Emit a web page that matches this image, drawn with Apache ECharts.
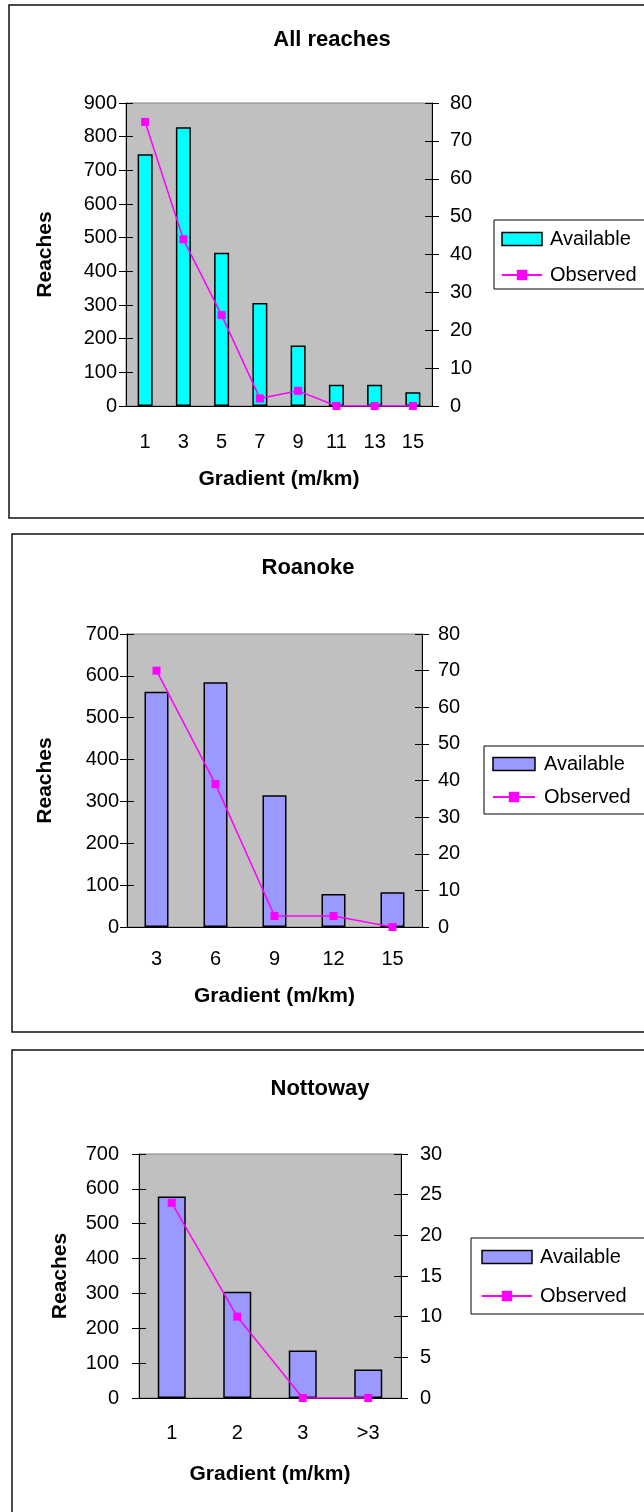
<!DOCTYPE html>
<html>
<head>
<meta charset="utf-8">
<script src="https://cdn.jsdelivr.net/npm/echarts@6/dist/echarts.min.js"></script>
<style>
html,body{margin:0;padding:0;background:#fff;}
.c{position:absolute;left:0;width:644px;}
</style>
</head>
<body>
<div id="c1" class="c" style="top:0;height:526px"></div>
<div id="c2" class="c" style="top:526px;height:518px"></div>
<div id="c3" class="c" style="top:1044px;height:468px"></div>
<script>
// ---- data ----
const titles = ['All reaches', 'Roanoke', 'Nottoway'];
const cats1 = ['1', '3', '5', '7', '9', '11', '13', '15'];
const avail1 = [748, 828, 455, 306, 180, 63, 63, 41];
const obs1 = [75, 44, 24, 2, 4, 0, 0, 0];
const cats2 = ['3', '6', '9', '12', '15'];
const avail2 = [562, 585, 315, 79, 83];
const obs2 = [70, 39, 3, 3, 0];
const cats3 = ['1', '2', '3', '>3'];
const avail3 = [578, 305, 136, 82];
const obs3 = [24, 10, 0, 0];
const leftMax = [900, 700, 700];
const rightMax = [80, 80, 30];
const rightInterval = [10, 10, 5];
const xName = 'Gradient (m/km)';
const yName = 'Reaches';
const seriesNames = ['Available', 'Observed'];

const FONT = 'Liberation Sans, Arial, sans-serif';
const TICK_FS = 20, NAME_FS = 21, TITLE_FS = 22, LEG_FS = 20;

const layouts = [
  {el:'c1', top:0, box:{x:9,y:5,h:513}, tcx:332, tcy:40,
   grid:{l:126,t:103,w:306,h:303}, lm:9, rm:18, xlm:26, xng:63, yng:70,
   barW:15, color:'#00FFFF',
   leg:{l:494,t:220,pad:[9,60,4,7],gap:16,iw:40,tgap:3}},
  {el:'c2', top:526, box:{x:12,y:534,h:498}, tcx:308, tcy:568,
   grid:{l:127,t:634,w:295,h:293}, lm:8, rm:16, xlm:22, xng:59, yng:71,
   barW:24, color:'#9999FF',
   leg:{l:484,t:746,pad:[8,60,7,8],gap:13,iw:42,tgap:4}},
  {el:'c3', top:1044, box:{x:12,y:1050,h:600}, tcx:320, tcy:1089,
   grid:{l:139,t:1154,w:262,h:244}, lm:20, rm:19, xlm:25, xng:66, yng:68,
   barW:28, color:'#9999FF',
   leg:{l:471,t:1238,pad:[9,60,8,10],gap:19,iw:50,tgap:3}}
];
const catsAll = [cats1, cats2, cats3];
const availAll = [avail1, avail2, avail3];
const obsAll = [obs1, obs2, obs3];

layouts.forEach((L, i) => {
  const off = L.top;
  const chart = echarts.init(document.getElementById(L.el), null, {renderer:'canvas'});
  const cats = catsAll[i];
  const tickLabel = {color:'#000', fontSize:TICK_FS, fontFamily:FONT};
  const yBase = (max, interval, pos, inside, margin) => ({
    type:'value', min:0, max:max, interval:interval, position:pos,
    axisLine:{show:!inside, lineStyle:{color:'#000', width:1}},
    axisTick:{show:true, inside:inside, length:7, lineStyle:{color:'#000', width:1}},
    axisLabel: inside ? {show:false} : Object.assign({margin:margin}, tickLabel),
    splitLine:{show:false}
  });
  const yl = yBase(leftMax[i], 100, 'left', false, L.lm);
  yl.name = yName; yl.nameLocation = 'middle'; yl.nameGap = L.yng;
  yl.nameTextStyle = {color:'#000', fontSize:NAME_FS, fontWeight:'bold', fontFamily:FONT};
  const option = {
    animation:false,
    backgroundColor:'transparent',
    title:{text:titles[i], left:L.tcx, top:L.tcy - off - TITLE_FS/2, textAlign:'center', padding:0,
      textStyle:{color:'#000', fontSize:TITLE_FS, fontWeight:'bold', fontFamily:FONT}},
    graphic:[{type:'rect', shape:{x:L.box.x, y:L.box.y - off, width:720, height:L.box.h},
      style:{fill:'none', stroke:'#111', lineWidth:1.5}, z:-10}],
    grid:{left:L.grid.l, top:L.grid.t - off, width:L.grid.w, height:L.grid.h,
      show:true, backgroundColor:'#C0C0C0', borderColor:'#808080', borderWidth:1},
    legend:{orient:'vertical', left:L.leg.l, top:L.leg.t - off,
      padding:L.leg.pad, itemGap:L.leg.gap, itemWidth:L.leg.iw, itemHeight:13,
      borderColor:'#000', borderWidth:1, backgroundColor:'#fff',
      textStyle:{color:'#000', fontSize:LEG_FS, fontFamily:FONT, lineHeight:20, padding:[0,0,0,L.leg.tgap]},
      data:[{name:seriesNames[0], icon:'rect', itemStyle:{borderColor:'#000', borderWidth:1.5}},
            {name:seriesNames[1]}]},
    xAxis:[
      {type:'category', data:cats, position:'bottom',
       name:xName, nameLocation:'middle', nameGap:L.xng,
       nameTextStyle:{color:'#000', fontSize:NAME_FS, fontWeight:'bold', fontFamily:FONT},
       axisLine:{lineStyle:{color:'#000', width:1}},
       axisTick:{length:7, lineStyle:{color:'#000'}},
       axisLabel:Object.assign({margin:L.xlm}, tickLabel)},
      {type:'category', data:cats, position:'bottom',
       axisLine:{show:false}, axisTick:{inside:true, length:8, lineStyle:{color:'#000'}},
       axisLabel:{show:false}}
    ],
    yAxis:[
      yl,
      yBase(rightMax[i], rightInterval[i], 'right', false, L.rm),
      yBase(leftMax[i], 100, 'left', true, 0),
      yBase(rightMax[i], rightInterval[i], 'right', true, 0)
    ],
    series:[
      {name:seriesNames[0], type:'bar', data:availAll[i], xAxisIndex:0, yAxisIndex:0,
       barWidth:L.barW, itemStyle:{color:L.color, borderColor:'#000', borderWidth:1.5}},
      {name:seriesNames[1], type:'line', data:obsAll[i], xAxisIndex:0, yAxisIndex:1,
       symbol:'rect', symbolSize:8, z:5,
       itemStyle:{color:'#FF00FF'}, lineStyle:{color:'#FF00FF', width:1.5}}
    ]
  };
  chart.setOption(option);
});
</script>
</body>
</html>
